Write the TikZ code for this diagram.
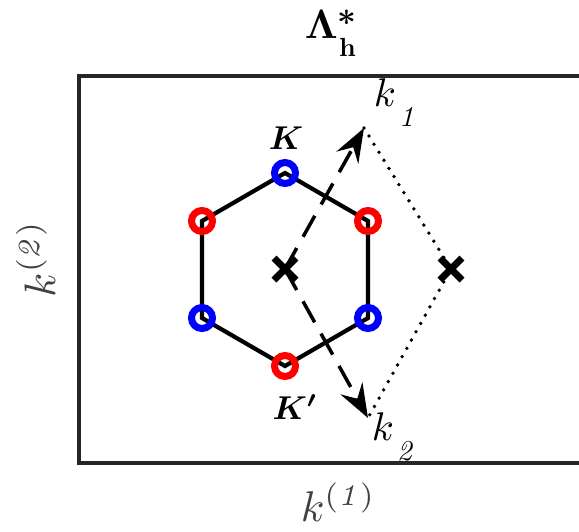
\documentclass[tikz,border=0pt]{standalone}
\usepackage{amsmath,bm,graphicx}
\usetikzlibrary{arrows.meta,calc}
\definecolor{framec}{HTML}{262626}
\definecolor{labc}{HTML}{404040}
\definecolor{kblue}{HTML}{0000FF}
\definecolor{kred}{HTML}{FF0000}
\begin{document}
\begin{tikzpicture}[x=1pt,y=-1pt,
  vtx/.style={circle,draw,line width=7pt,minimum size=21pt,inner sep=0pt},
  bluev/.style={vtx,draw=kblue},
  redv/.style={vtx,draw=kred},
  xmark/.style={line width=7pt},
  qarrow/.style={line width=3.5pt,dash pattern=on 24pt off 13pt,-{Stealth[length=34pt,width=25pt,inset=12pt]}},
  dotl/.style={line width=3.8pt,line cap=round,dash pattern=on 0pt off 9.5pt},
  lbl/.style={inner sep=0pt,text=labc}]
\useasboundingbox (0,0) rectangle (579,531);
% frame
\draw[framec,line width=3.3pt] (590,76) -- (79,76) -- (79,463) -- (590,463);
% hexagon vertices
\coordinate (vT) at (285,173);
\coordinate (vUR) at (368,221);
\coordinate (vLR) at (368,318);
\coordinate (vB) at (285,366);
\coordinate (vLL) at (202,318);
\coordinate (vUL) at (202,221);
\draw[line width=4.2pt] (vT) -- (vUR) -- (vLR) -- (vB) -- (vLL) -- (vUL) -- cycle;
\node[bluev] (cT) at (vT) {};
\node[bluev] (cLL) at (vLL) {};
\node[bluev] (cLR) at (vLR) {};
\node[redv] (cUL) at (vUL) {};
\node[redv] (cUR) at (vUR) {};
\node[redv] (cB) at (vB) {};
% centres
\coordinate (g) at (285,269);
\coordinate (g2) at (451,269);
\coordinate (k1) at (364,128);
\coordinate (k2) at (368,418);
% dotted
\draw[dotl] (k1) -- (g2) -- (k2);
% arrows
\draw[qarrow] (g) -- (k1);
\draw[qarrow] (g) -- (k2);
% X marks
\draw[xmark] ($(g)+(-11,-11)$) -- ($(g)+(11,11)$) ($(g)+(-11,11)$) -- ($(g)+(11,-11)$);
\draw[xmark] ($(g2)+(-11,-11)$) -- ($(g2)+(11,11)$) ($(g2)+(-11,11)$) -- ($(g2)+(11,-11)$);
% labels
\node[inner sep=0pt,scale=4.1,anchor=base west] (title) at (304,38)
  {$\bm{\Lambda}$\rlap{\raisebox{3.0pt}{\scalebox{0.8}{$\bm{*}$}}}\hspace{0.3pt}\raisebox{-4.4pt}{\scalebox{0.64}{$\mathbf{h}$}}};
\node[inner sep=0pt,scale=3.3] (lK) at (286,138) {$\bm{K}$};
\node[inner sep=0pt,scale=3.3] (lKp) at (295,407) {$\bm{K'}$};
\node[inner sep=0pt,scale=4.0,anchor=base west] (lk1) at (373,106)
  {$k$\hspace{0.8pt}\raisebox{-5pt}{\scalebox{0.72}{$\mathit{1}$}}};
\node[inner sep=0pt,scale=4.0,anchor=base west] (lk2) at (371,440)
  {$k$\hspace{0.8pt}\raisebox{-5pt}{\scalebox{0.72}{$\mathit{2}$}}};
\node[lbl,scale=4.3,anchor=base west] (ax1) at (300,521) {$k^{(\mathit{1})}$};
\node[lbl,rotate=90,scale=4.4,anchor=base west] (ax2) at (55,298) {$k^{(\mathit{2})}$};
\end{tikzpicture}
\end{document}
